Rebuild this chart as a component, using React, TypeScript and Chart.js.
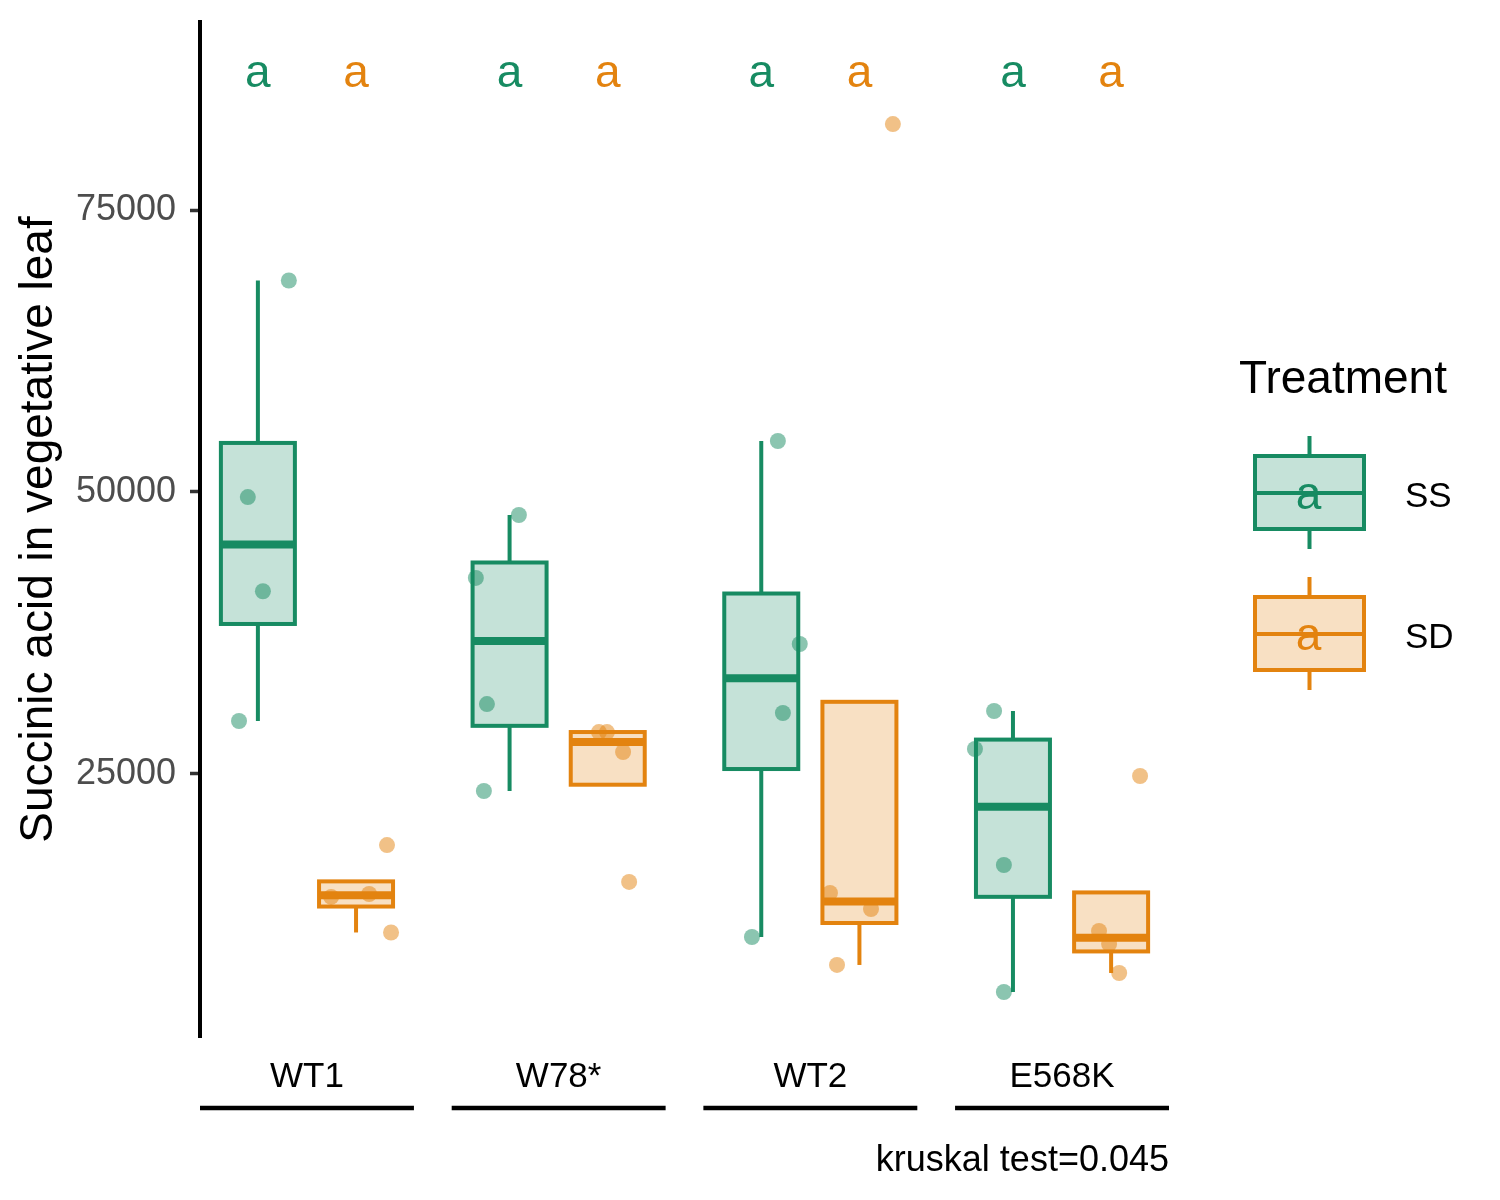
import React, { useEffect, useRef } from "react";
import { Chart, registerables } from "chart.js";

Chart.register(...registerables);

// ---------------- data ----------------
const categories = ["WT1", "W78*", "WT2", "E568K"];
const treatments = ["SS", "SD"];
const yTicks = [25000, 50000, 75000];

// SS treatment: individual observations and their horizontal jitter (in category units)
const ssPoints = [
  [68750, 49550, 41200, 29700],
  [47960, 42380, 31200, 23490],
  [54520, 36525, 30410, 10550],
  [30585, 27216, 16933, 5674],
];
const ssJitter = [
  [0.123, -0.04, 0.02, -0.075],
  [0.037, -0.134, -0.09, -0.102],
  [0.066, 0.153, 0.086, -0.037],
  [-0.075, -0.151, -0.036, -0.036],
];
// SD treatment
const sdPoints = [
  [18700, 14100, 14360, 10950],
  [28720, 28720, 26950, 15430],
  [82620, 14450, 13030, 8070],
  [24820, 11080, 9930, 7360],
];
const sdJitter = [
  [0.123, -0.099, 0.052, 0.139],
  [-0.035, -0.003, 0.061, 0.085],
  [0.133, -0.117, 0.046, -0.089],
  [0.115, -0.048, -0.008, 0.032],
];

// box statistics
const ssWhiskerLow = [29700, 23490, 10550, 5674];
const ssQ1 = [38300, 29270, 25440, 14110];
const ssMedian = [45350, 36790, 33480, 22100];
const ssQ3 = [54350, 43750, 41000, 28050];
const ssWhiskerHigh = [68750, 47960, 54520, 30585];

const sdWhiskerLow = [10950, 24050, 8070, 7360];
const sdQ1 = [13250, 24050, 11790, 9270];
const sdMedian = [14250, 27840, 13700, 10480];
const sdQ3 = [15480, 28720, 31400, 14500];
const sdWhiskerHigh = [15480, 28720, 31400, 14500];

// significance letters
const ssLetters = ["a", "a", "a", "a"];
const sdLetters = ["a", "a", "a", "a"];
const letterY = 87000;

const captionText = "kruskal test=0.045";
const yTitle = "Succinic acid in vegetative leaf";
const legendTitle = "Treatment";

// ---------------- styles ----------------
const FONT = "'Liberation Sans', Arial, Helvetica, sans-serif";
const GREEN = "#178B62";
const ORANGE = "#E3830F";
const GREEN_FILL = "rgba(23,139,98,0.25)";
const ORANGE_FILL = "rgba(227,131,15,0.25)";
const GREEN_PT = "rgba(23,139,98,0.5)";
const ORANGE_PT = "rgba(227,131,15,0.5)";
const DODGE = 0.195;
const HALF_BOX = 0.147;

const groups = [
  {
    name: treatments[0], off: -DODGE, color: GREEN, fill: GREEN_FILL,
    lo: ssWhiskerLow, q1: ssQ1, med: ssMedian, q3: ssQ3, hi: ssWhiskerHigh, letters: ssLetters,
  },
  {
    name: treatments[1], off: DODGE, color: ORANGE, fill: ORANGE_FILL,
    lo: sdWhiskerLow, q1: sdQ1, med: sdMedian, q3: sdQ3, hi: sdWhiskerHigh, letters: sdLetters,
  },
];

const boxPlugin = {
  id: "boxes",
  afterDatasetsDraw(chart: any) {
    const { ctx } = chart;
    const x = chart.scales.x;
    const y = chart.scales.y;
    ctx.save();
    groups.forEach((g) => {
      categories.forEach((_, i) => {
        const cx = x.getPixelForValue(i + 1 + g.off);
        const hw = x.getPixelForValue(i + 1 + g.off + HALF_BOX) - cx;
        const yq1 = y.getPixelForValue(g.q1[i]);
        const yq3 = y.getPixelForValue(g.q3[i]);
        const ymed = y.getPixelForValue(g.med[i]);
        const ylo = y.getPixelForValue(g.lo[i]);
        const yhi = y.getPixelForValue(g.hi[i]);
        ctx.strokeStyle = g.color;
        ctx.lineCap = "butt";
        ctx.lineWidth = 4;
        // whiskers
        if (g.hi[i] > g.q3[i]) {
          ctx.beginPath();
          ctx.moveTo(cx, yq3);
          ctx.lineTo(cx, yhi);
          ctx.stroke();
        }
        if (g.lo[i] < g.q1[i]) {
          ctx.beginPath();
          ctx.moveTo(cx, yq1);
          ctx.lineTo(cx, ylo);
          ctx.stroke();
        }
        // box
        ctx.fillStyle = g.fill;
        ctx.fillRect(cx - hw, yq3, 2 * hw, yq1 - yq3);
        ctx.lineJoin = "miter";
        ctx.strokeRect(cx - hw, yq3, 2 * hw, yq1 - yq3);
        // median
        ctx.lineWidth = 8;
        ctx.beginPath();
        ctx.moveTo(cx - hw, ymed);
        ctx.lineTo(cx + hw, ymed);
        ctx.stroke();
      });
    });
    // letters
    ctx.font = `46px ${FONT}`;
    ctx.textAlign = "center";
    ctx.textBaseline = "alphabetic";
    groups.forEach((g) => {
      categories.forEach((_, i) => {
        ctx.fillStyle = g.color;
        ctx.fillText(g.letters[i], x.getPixelForValue(i + 1 + g.off), y.getPixelForValue(letterY) + 12);
      });
    });
    ctx.restore();
  },
  afterDraw(chart: any) {
    const { ctx, chartArea } = chart;
    const x = chart.scales.x;
    ctx.save();
    // bracket lines under category labels
    ctx.strokeStyle = "#000";
    ctx.lineWidth = 4.5;
    categories.forEach((_, i) => {
      const x1 = x.getPixelForValue(i + 1 - 0.425);
      const x2 = x.getPixelForValue(i + 1 + 0.425);
      ctx.beginPath();
      ctx.moveTo(x1, chartArea.bottom + 71);
      ctx.lineTo(x2, chartArea.bottom + 71);
      ctx.stroke();
    });
    // legend
    const lx = chartArea.right + 70;
    ctx.fillStyle = "#000";
    ctx.textAlign = "left";
    ctx.textBaseline = "alphabetic";
    ctx.font = `46px ${FONT}`;
    ctx.fillText(legendTitle, lx, 393);
    const keys = [
      { g: groups[0], top: 456, label: treatments[0], lb: 507 },
      { g: groups[1], top: 597, label: treatments[1], lb: 648 },
    ];
    keys.forEach(({ g, top, label, lb }) => {
      const bx = lx + 16;
      const bw = 109;
      const bh = 73;
      const mx = bx + bw / 2;
      const mid = top + 37;
      ctx.strokeStyle = g.color;
      ctx.lineWidth = 4;
      ctx.beginPath();
      ctx.moveTo(mx, top - 20);
      ctx.lineTo(mx, top);
      ctx.moveTo(mx, top + bh);
      ctx.lineTo(mx, top + bh + 20);
      ctx.stroke();
      ctx.fillStyle = g.fill;
      ctx.fillRect(bx, top, bw, bh);
      ctx.strokeRect(bx, top, bw, bh);
      ctx.beginPath();
      ctx.moveTo(bx, mid);
      ctx.lineTo(bx + bw, mid);
      ctx.stroke();
      ctx.font = `46px ${FONT}`;
      ctx.textAlign = "center";
      ctx.fillStyle = g.color;
      ctx.fillText("a", mx - 1, mid + 16);
      ctx.font = `35px ${FONT}`;
      ctx.textAlign = "left";
      ctx.fillStyle = "#000";
      ctx.fillText(label, lx + 166, lb);
    });
    ctx.restore();
  },
};

export default function App() {
  const ref = useRef<HTMLCanvasElement | null>(null);
  useEffect(() => {
    if (!ref.current) return;
    const mk = (pts: number[][], jit: number[][], off: number) =>
      pts.flatMap((arr, i) => arr.map((v, j) => ({ x: i + 1 + off + jit[i][j], y: v })));
    const chart = new Chart(ref.current, {
      type: "scatter",
      data: {
        datasets: [
          {
            label: treatments[0],
            data: mk(ssPoints, ssJitter, -DODGE),
            backgroundColor: GREEN_PT,
            borderWidth: 0,
            pointRadius: 8,
            pointHoverRadius: 8,
          },
          {
            label: treatments[1],
            data: mk(sdPoints, sdJitter, DODGE),
            backgroundColor: ORANGE_PT,
            borderWidth: 0,
            pointRadius: 8,
            pointHoverRadius: 8,
          },
        ],
      },
      options: {
        animation: false,
        responsive: false,
        devicePixelRatio: 1,
        layout: { padding: { left: 0, right: 331, top: 22, bottom: 0 } },
        plugins: {
          legend: { display: false },
          tooltip: { enabled: false },
        },
        scales: {
          x: {
            type: "linear",
            min: 0.575,
            max: 4.425,
            afterBuildTicks: (s: any) => {
              s.ticks = categories.map((_, i) => ({ value: i + 1 }));
            },
            afterFit: (s: any) => {
              s.height = 163;
              s.paddingLeft = 0;
              s.paddingRight = 0;
            },
            ticks: {
              callback: (v: any) => categories[Math.round(Number(v)) - 1] ?? "",
              font: { family: FONT, size: 35 },
              color: "#000",
              padding: 19,
              maxRotation: 0,
              autoSkip: false,
            },
            grid: { display: false, drawTicks: false },
            border: { display: false },
            title: {
              display: true,
              text: captionText,
              align: "end",
              font: { family: FONT, size: 36 },
              color: "#000",
              padding: { top: 0, bottom: 17 },
            },
          },
          y: {
            type: "linear",
            min: 1684,
            max: 91667,
            afterBuildTicks: (s: any) => {
              s.ticks = yTicks.map((v) => ({ value: v }));
            },
            afterFit: (s: any) => {
              s.width = 200;
              s.paddingTop = 0;
              s.paddingBottom = 0;
            },
            ticks: {
              callback: (v: any) => String(v),
              font: { family: FONT, size: 36 },
              color: "#4D4D4D",
              padding: 14,
            },
            grid: {
              display: true,
              drawOnChartArea: false,
              drawTicks: true,
              tickLength: 10,
              tickColor: "#333333",
              tickWidth: 3.5,
              color: "rgba(0,0,0,0)",
            },
            border: { display: true, color: "#000", width: 4 },
            title: {
              display: true,
              text: yTitle,
              font: { family: FONT, size: 46 },
              color: "#000",
              padding: { top: 12, bottom: 0 },
            },
          },
        },
      },
      plugins: [boxPlugin],
    } as any);
    return () => chart.destroy();
  }, []);
  return (
    <div style={{ position: "absolute", left: 0, top: 0, width: 1500, height: 1200, background: "#fff" }}>
      <canvas ref={ref} width={1500} height={1200} style={{ width: 1500, height: 1200, display: "block" }} />
    </div>
  );
}
